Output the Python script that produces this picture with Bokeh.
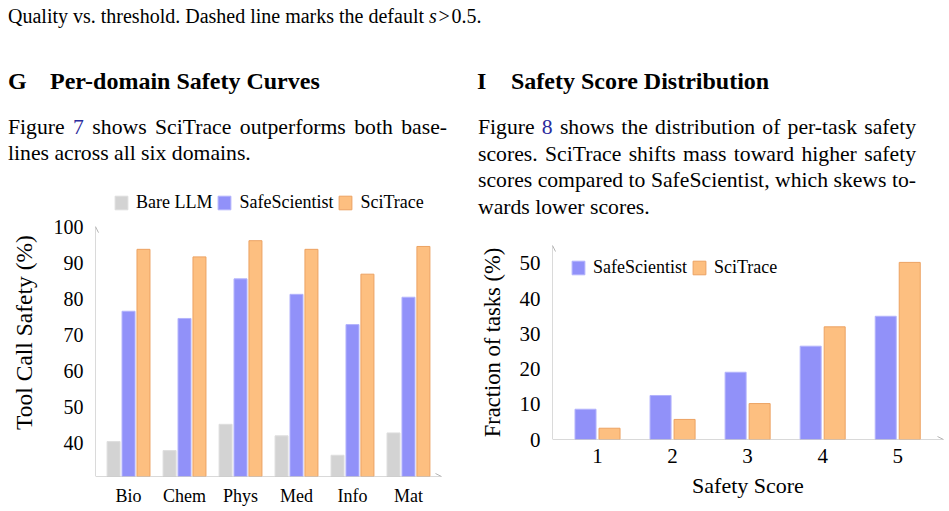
from bokeh.plotting import figure
from bokeh.models import (Div, Range1d, FixedTicker, Legend, LegendItem, Arrow,
                          OpenHead, ColumnDataSource)
from bokeh.layouts import column, row
from bokeh.transform import dodge
from bokeh.embed import file_html
from bokeh.resources import INLINE

# ---------------- data ----------------
domains = ["Bio", "Chem", "Phys", "Med", "Info", "Mat"]
bare_llm = [40.5, 38.0, 45.3, 42.1, 36.7, 42.9]
safe_scientist = [76.7, 74.7, 85.7, 81.4, 73.0, 80.6]
scitrace = [93.9, 91.8, 96.3, 93.9, 87.0, 94.7]
domain_ticks_y = [40, 50, 60, 70, 80, 90, 100]

scores = [1, 2, 3, 4, 5]
dist_safe_scientist = [8.6, 12.5, 19.1, 26.5, 35.0]
dist_scitrace = [3.2, 5.7, 10.2, 32.0, 50.3]
dist_ticks_y = [0, 10, 20, 30, 40, 50]

FONT = "Liberation Serif"
GRAY_F, GRAY_L = "#d3d3d3", "#dedede"
BLUE_F, BLUE_L = "#9191f9", "#b3b3fc"
ORNG_F, ORNG_L = "#fdbf80", "#eca262"
AXIS_C = "#b4b4b4"
LINK = "#2b2b9c"

JL = "text-align:justify;text-align-last:justify;white-space:nowrap;"
NL = "white-space:nowrap;"

# ---------------- text blocks ----------------
top_html = f"""
<div style="position:relative;width:949px;height:48px;font-family:'{FONT}';color:#000;">
 <div style="position:absolute;left:8px;top:3px;font-size:20px;line-height:26px;white-space:nowrap;">
 Quality vs. threshold. Dashed line marks the default <i>s</i>&#8202;&gt;&#8202;0.5.</div>
</div>"""

left_html = f"""
<div style="position:relative;width:470px;height:132px;font-family:'{FONT}';color:#000;">
 <div style="position:absolute;left:8px;top:20px;font-size:24px;font-weight:bold;line-height:26px;white-space:nowrap;">
  <span style="display:inline-block;width:42px;">G</span>Per-domain Safety Curves</div>
 <div style="position:absolute;left:8px;top:66px;width:439px;font-size:21.7px;line-height:26px;font-family:'{FONT}';">
  <div style="{JL}">Figure <span style="color:{LINK};">7</span> shows SciTrace outperforms both base-</div>
  <div style="{NL}">lines across all six domains.</div>
 </div>
</div>"""

right_html = f"""
<div style="position:relative;width:479px;height:177px;font-family:'{FONT}';color:#000;">
 <div style="position:absolute;left:7px;top:20px;font-size:24px;font-weight:bold;line-height:26px;white-space:nowrap;">
  <span style="display:inline-block;width:34px;">I</span>Safety Score Distribution</div>
 <div style="position:absolute;left:8px;top:66px;width:438px;font-size:21.7px;line-height:26.7px;font-family:'{FONT}';">
  <div style="{JL}">Figure <span style="color:{LINK};">8</span> shows the distribution of per-task safety</div>
  <div style="{JL}">scores. SciTrace shifts mass toward higher safety</div>
  <div style="{JL}">scores compared to SafeScientist, which skews to-</div>
  <div style="{NL}">wards lower scores.</div>
 </div>
</div>"""

top_div = Div(text=top_html, width=949, height=48, margin=(0, 0, 0, 0))
left_div = Div(text=left_html, width=470, height=132, margin=(0, 0, 0, 0))
right_div = Div(text=right_html, width=479, height=177, margin=(0, 0, 0, 0))


def style_axes(p, tick_size, xtick_size, label_size, axis_top):
    for ax in (p.xaxis[0], p.yaxis[0]):
        ax.axis_line_color = None
        ax.major_tick_line_color = None
        ax.minor_tick_line_color = None
        ax.major_tick_out = 0
        ax.major_tick_in = 0
        ax.minor_tick_out = 0
        ax.major_label_text_font = FONT
        ax.axis_label_text_font = FONT
        ax.axis_label_text_font_style = "normal"
        ax.axis_label_text_color = "#000"
        ax.major_label_text_color = "#000"
        ax.axis_label_text_font_size = label_size
    p.yaxis[0].major_label_text_font_size = tick_size
    p.xaxis[0].major_label_text_font_size = xtick_size
    p.xgrid.grid_line_color = None
    p.ygrid.grid_line_color = None
    p.outline_line_color = None
    xr, yr = p.x_range, p.y_range
    head = dict(size=6, line_color=AXIS_C, line_width=1)
    p.add_layout(Arrow(end=OpenHead(**head), x_start=xr.start, y_start=yr.start,
                       x_end=xr.start, y_end=axis_top, line_color=AXIS_C, line_width=1))
    p.add_layout(Arrow(end=OpenHead(**head), x_start=xr.start, y_start=yr.start,
                       x_end=xr.end, y_end=yr.start, line_color=AXIS_C, line_width=1))


legend_style = dict(orientation="horizontal", glyph_width=16, glyph_height=17,
                    label_standoff=7, spacing=4, padding=0, margin=0,
                    border_line_color=None, background_fill_alpha=0,
                    label_text_font=FONT, label_text_font_size="18px",
                    label_text_color="#000", label_height=17)

# ---------------- left chart ----------------
idx = list(range(len(domains)))
src1 = ColumnDataSource(dict(x=idx, bare=bare_llm, safe=safe_scientist, sci=scitrace))
y1_min, y1_axis_top, y1_view_top = 30.8, 100.2, 110.8
p1 = figure(width=470, height=331, x_range=Range1d(-0.59, 5.59),
            y_range=Range1d(y1_min, y1_view_top), output_backend="svg",
            toolbar_location=None, min_border_left=95, min_border_right=29,
            min_border_top=8, min_border_bottom=35)
r1 = p1.vbar(x=dodge("x", -0.267, range=p1.x_range), top="bare", bottom=y1_min,
             width=0.232, source=src1, fill_color=GRAY_F, line_color=GRAY_L)
r2 = p1.vbar(x="x", top="safe", bottom=y1_min, width=0.232, source=src1,
             fill_color=BLUE_F, line_color=BLUE_L)
r3 = p1.vbar(x=dodge("x", 0.267, range=p1.x_range), top="sci", bottom=y1_min,
             width=0.232, source=src1, fill_color=ORNG_F, line_color=ORNG_L)
p1.yaxis.ticker = FixedTicker(ticks=domain_ticks_y)
p1.xaxis.ticker = FixedTicker(ticks=idx)
p1.xaxis.major_label_overrides = {i: d for i, d in enumerate(domains)}
p1.yaxis.axis_label = "Tool Call Safety (%)"
style_axes(p1, "20px", "18px", "23.5px", y1_axis_top)
p1.yaxis.major_label_standoff = 12
p1.yaxis.axis_label_standoff = 14
p1.xaxis.major_label_standoff = 9

leg1 = Legend(items=[LegendItem(label="Bare LLM", renderers=[r1]),
                     LegendItem(label="SafeScientist", renderers=[r2]),
                     LegendItem(label="SciTrace", renderers=[r3])],
              location=(18, 263), **legend_style)
p1.add_layout(leg1)

# ---------------- right chart ----------------
src2 = ColumnDataSource(dict(x=scores, safe=dist_safe_scientist, sci=dist_scitrace))
p2 = figure(width=479, height=286, x_range=Range1d(0.4, 5.61), y_range=Range1d(0, 55.1),
            output_backend="svg", toolbar_location=None, min_border_left=82,
            min_border_right=6, min_border_top=20, min_border_bottom=72)
q1 = p2.vbar(x=dodge("x", -0.16, range=p2.x_range), top="safe", bottom=0, width=0.28,
             source=src2, fill_color=BLUE_F, line_color=BLUE_L)
q2 = p2.vbar(x=dodge("x", 0.16, range=p2.x_range), top="sci", bottom=0, width=0.28,
             source=src2, fill_color=ORNG_F, line_color=ORNG_L)
p2.yaxis.ticker = FixedTicker(ticks=dist_ticks_y)
p2.xaxis.ticker = FixedTicker(ticks=scores)
p2.yaxis.axis_label = "Fraction of tasks (%)"
p2.xaxis.axis_label = "Safety Score"
style_axes(p2, "21px", "21px", "22.5px", p2.y_range.end)
p2.xaxis.axis_label_text_font_size = "22px"
p2.yaxis.major_label_standoff = 12
p2.yaxis.axis_label_standoff = 12
p2.xaxis.major_label_standoff = 9
p2.xaxis.axis_label_standoff = 7

leg2 = Legend(items=[LegendItem(label="SafeScientist", renderers=[q1]),
                     LegendItem(label="SciTrace", renderers=[q2])],
              location=(18, 161), **legend_style)
p2.add_layout(leg2)

layout = column(top_div,
                row(column(left_div, p1, spacing=0), column(right_div, p2, spacing=0), spacing=0),
                spacing=0)

open("out.html", "w").write(file_html(layout, INLINE))
